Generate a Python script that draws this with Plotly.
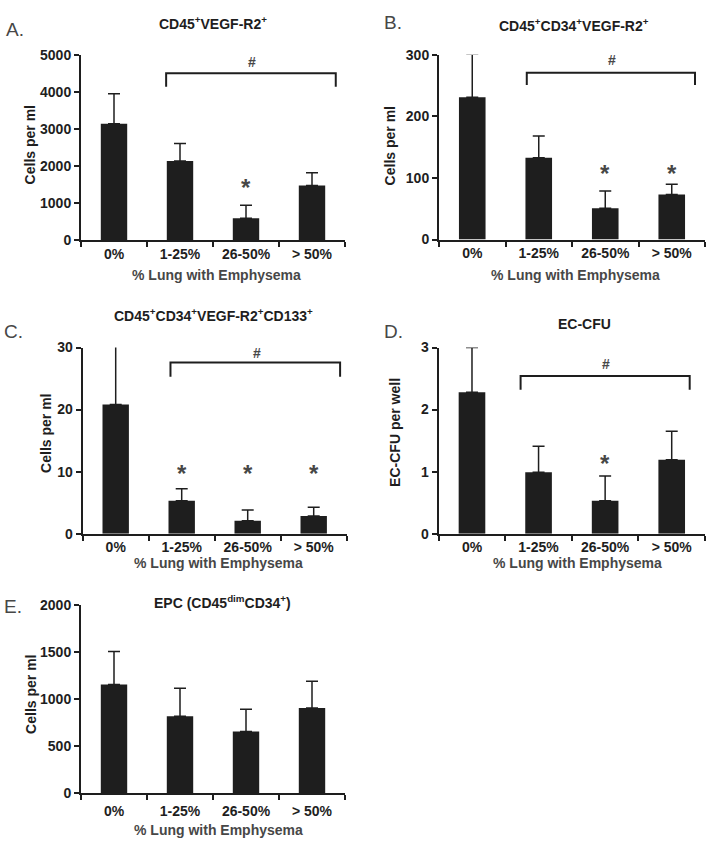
import plotly.graph_objects as go

W, H = 714, 854

categories = ["0%", "1-25%", "26-50%", "> 50%"]

a_values = [3150, 2145, 595, 1480]
a_errors = [815, 470, 355, 345]
b_values = [231, 133, 51, 73]
b_errors = [70, 35, 28, 17]
c_values = [20.8, 5.3, 2.1, 2.85]
c_errors = [9.6, 1.95, 1.7, 1.4]
d_values = [2.28, 0.99, 0.53, 1.19]
d_errors = [0.72, 0.42, 0.40, 0.46]
e_values = [1155, 817, 654, 905]
e_errors = [350, 296, 236, 284]

a_ticks = [0, 1000, 2000, 3000, 4000, 5000]
b_ticks = [0, 100, 200, 300]
c_ticks = [0, 10, 20, 30]
d_ticks = [0, 1, 2, 3]
e_ticks = [0, 500, 1000, 1500, 2000]

titles = ["CD45<sup>+</sup>VEGF-R2<sup>+</sup>",
          "CD45<sup>+</sup>CD34<sup>+</sup>VEGF-R2<sup>+</sup>",
          "CD45<sup>+</sup>CD34<sup>+</sup>VEGF-R2<sup>+</sup>CD133<sup>+</sup>",
          "EC-CFU",
          "EPC (CD45<sup>dim</sup>CD34<sup>+</sup>)"]
letters = ["A.", "B.", "C.", "D.", "E."]
ytitles = ["Cells per ml", "Cells per ml", "Cells per ml", "EC-CFU per well", "Cells per ml"]
xtitle = "% Lung with Emphysema"

# significance markers: star positions (category index, value)
a_stars = [(2, 1530)]
b_stars = [(2, 114), (3, 114)]
c_stars = [(1, 10.4), (2, 10.4), (3, 10.4)]
d_stars = [(2, 1.2)]
e_stars = []

# brackets: (x0, x1, y_top, y_end, y_hash)
a_bracket = (0.79, 3.36, 4520, 4150, 4810)
b_bracket = (0.82, 3.35, 271, 251, 291)
c_bracket = (0.83, 3.40, 27.6, 25.3, 29.1)
d_bracket = (0.73, 3.27, 2.54, 2.32, 2.73)

FONT = "Liberation Sans, Arial, sans-serif"
DARK = "#1e1e1e"
GRAY = "#474747"

panels = [
    dict(vals=a_values, errs=a_errors, ticks=a_ticks, stars=a_stars, br=a_bracket,
         xd=(81, 345), yd=(48.3, 236.7), title=(213, 15), letter=(15, 22),
         ytit=(30, 140), xtit=(217, 272), std=0),
    dict(vals=b_values, errs=b_errors, ticks=b_ticks, stars=b_stars, br=b_bracket,
         xd=(439, 705), yd=(47.7, 236), title=(574, 17), letter=(393, 15),
         ytit=(390, 140), xtit=(575, 272), std=0),
    dict(vals=c_values, errs=c_errors, ticks=c_ticks, stars=c_stars, br=c_bracket,
         xd=(82.7, 346.7), yd=(346, 535.7), title=(213, 313), letter=(13, 330),
         ytit=(46, 433), xtit=(218, 566), std=0),
    dict(vals=d_values, errs=d_errors, ticks=d_ticks, stars=d_stars, br=d_bracket,
         xd=(438.7, 705), yd=(346, 535.7), title=(584, 322), letter=(393, 330),
         ytit=(395, 433), xtit=(577, 566), std=0),
    dict(vals=e_values, errs=e_errors, ticks=e_ticks, stars=e_stars, br=None,
         xd=(81, 345), yd=(608.3, 800), title=(222, 605), letter=(13, 610),
         ytit=(31, 700), xtit=(218, 838), std=4),
]

fig = go.Figure()
annotations = []
shapes = []

def px(x):
    return x / W

def py(y):
    return 1 - y / H

for i, p in enumerate(panels):
    n = i + 1
    xa = "x" if n == 1 else f"x{n}"
    ya = "y" if n == 1 else f"y{n}"
    fig.add_trace(go.Bar(
        x=categories, y=p["vals"], xaxis=xa, yaxis=ya, width=0.4,
        marker=dict(color=DARK, line=dict(width=0)),
        error_y=dict(type="data", array=p["errs"], symmetric=False,
                     arrayminus=[0] * 4, color=DARK, thickness=1.5, width=6),
        showlegend=False, hoverinfo="skip"))
    ymax = p["ticks"][-1]
    xkey = "xaxis" if n == 1 else f"xaxis{n}"
    ykey = "yaxis" if n == 1 else f"yaxis{n}"
    fig.update_layout(**{
        xkey: dict(domain=[px(p["xd"][0]), px(p["xd"][1])], anchor=ya,
                   type="category", range=[-0.5, 3.5], tickson="boundaries",
                   showline=True, linecolor=DARK, linewidth=2,
                   ticks="outside", ticklen=5, tickwidth=1.5, tickcolor=DARK,
                   showgrid=False, zeroline=False, fixedrange=True,
                   ticklabelstandoff=p["std"],
                   tickfont=dict(family=FONT, size=14, color=DARK, weight="bold")),
        ykey: dict(domain=[py(p["yd"][1]), py(p["yd"][0])], anchor=xa,
                   range=[0, ymax], tickvals=p["ticks"],
                   showline=True, linecolor=DARK, linewidth=2,
                   ticks="outside", ticklen=5, tickwidth=1.5, tickcolor=DARK,
                   showgrid=False, zeroline=False, fixedrange=True,
                   tickfont=dict(family=FONT, size=14, color=DARK, weight="bold")),
    })
    # panel title
    annotations.append(dict(x=px(p["title"][0]), y=py(p["title"][1]), xref="paper", yref="paper",
                            text=titles[i], showarrow=False, xanchor="center", yanchor="middle",
                            font=dict(family=FONT, size=14, color=DARK, weight="bold")))
    annotations.append(dict(x=px(p["letter"][0]), y=py(p["letter"][1]), xref="paper", yref="paper",
                            text=letters[i], showarrow=False, xanchor="center", yanchor="middle",
                            font=dict(family=FONT, size=19, color=GRAY)))
    annotations.append(dict(x=px(p["ytit"][0]), y=py(p["ytit"][1]), xref="paper", yref="paper",
                            text=ytitles[i], showarrow=False, textangle=-90,
                            xanchor="center", yanchor="middle",
                            font=dict(family=FONT, size=14, color=DARK, weight="bold")))
    annotations.append(dict(x=px(p["xtit"][0]), y=py(p["xtit"][1]), xref="paper", yref="paper",
                            text=xtitle, showarrow=False, xanchor="center", yanchor="middle",
                            font=dict(family=FONT, size=14, color=GRAY, weight="bold")))
    for (cx, cy) in p["stars"]:
        annotations.append(dict(x=cx, y=cy, xref=xa, yref=ya, text="*", showarrow=False,
                                xanchor="center", yanchor="middle", yshift=-4,
                                font=dict(family=FONT, size=24, color=GRAY, weight="bold")))
    if p["br"] is not None:
        x0, x1, yt, ye, yh = p["br"]
        shapes.append(dict(type="path", xref=xa, yref=ya,
                           path=f"M {x0} {ye} L {x0} {yt} L {x1} {yt} L {x1} {ye}",
                           line=dict(color=DARK, width=2)))
        annotations.append(dict(x=(x0 + x1) / 2 + 0.02, y=yh, xref=xa, yref=ya, text="#",
                                showarrow=False, xanchor="center", yanchor="middle",
                                font=dict(family=FONT, size=14, color=GRAY, weight="bold")))

fig.update_layout(width=W, height=H, margin=dict(l=0, r=0, t=0, b=0),
                  paper_bgcolor="white", plot_bgcolor="white",
                  annotations=annotations, shapes=shapes, bargap=0.6)

fig.write_html("out.html", config={"displayModeBar": False},
               post_script="document.body.style.margin='0';document.body.style.overflow='hidden';")
